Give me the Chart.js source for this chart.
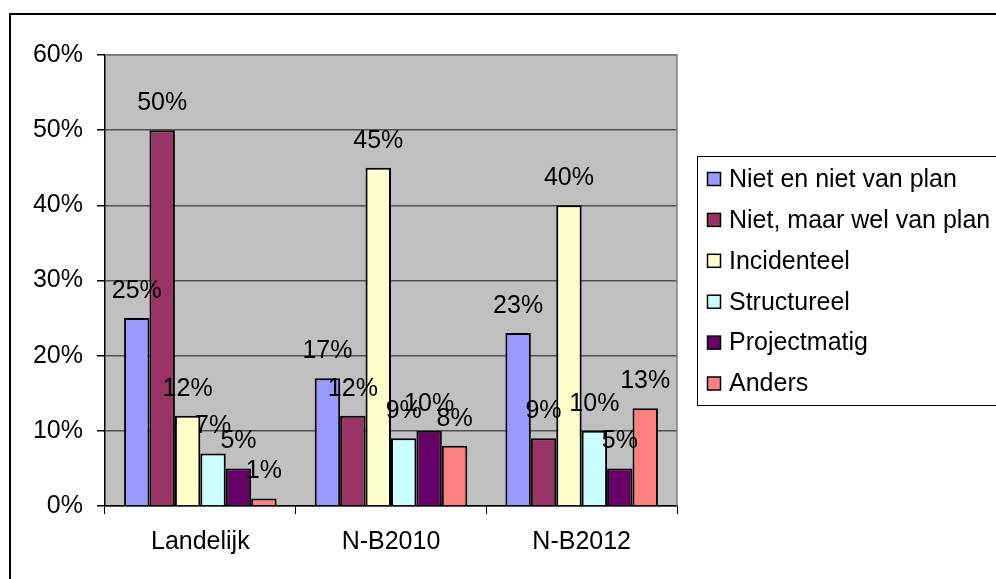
<!DOCTYPE html>
<html>
<head>
<meta charset="utf-8">
<script src="https://cdn.jsdelivr.net/npm/chart.js@4.4.1/dist/chart.umd.min.js"></script>
<style>
  html, body { margin: 0; padding: 0; background: #fff; }
  #wrap { position: relative; width: 996px; height: 579px; }
  #frame { position: absolute; left: 9px; top: 13px; width: 1200px; height: 800px; border-left: 2px solid #000; border-top: 2px solid #000; pointer-events: none; }
  canvas { position: absolute; left: 0; top: 0; }
</style>
</head>
<body>
<div id="wrap">
  <canvas id="c" width="996" height="579"></canvas>
  <div id="frame"></div>
</div>
<script>
const categories = ["Landelijk", "N-B2010", "N-B2012"];
const seriesNames = ["Niet en niet van plan", "Niet, maar wel van plan", "Incidenteel", "Structureel", "Projectmatig", "Anders"];
const nietNietVanPlan = [25, 17, 23];
const nietMaarWelVanPlan = [50, 12, 9];
const incidenteel = [12, 45, 40];
const structureel = [7, 9, 10];
const projectmatig = [5, 10, 5];
const anders = [1, 8, 13];
const yTicks = [0, 10, 20, 30, 40, 50, 60];
const seriesColors = ["#9999FF", "#993366", "#FFFFCC", "#CCFFFF", "#660066", "#FF8080"];

const allValues = [nietNietVanPlan, nietMaarWelVanPlan, incidenteel, structureel, projectmatig, anders];
const FONT = "'Liberation Sans', Arial, sans-serif";
const FS = 25;

const datasets = seriesNames.map((name, i) => ({
  label: name,
  data: allValues[i],
  backgroundColor: seriesColors[i],
  borderColor: "#000",
  borderWidth: 2,
  categoryPercentage: 0.8,
  barPercentage: 1.0
}));

const plotBg = {
  id: "plotBg",
  beforeDraw(chart) {
    const { ctx, chartArea: a } = chart;
    ctx.save();
    ctx.fillStyle = "#C0C0C0";
    ctx.fillRect(a.left, a.top, a.right - a.left, a.bottom - a.top);
    ctx.restore();
  },
  afterDatasetsDraw(chart) {
    const { ctx, chartArea: a } = chart;
    ctx.save();
    ctx.strokeStyle = "#808080";
    ctx.lineWidth = 1.5;
    ctx.beginPath();
    ctx.moveTo(a.left, a.top);
    ctx.lineTo(a.right, a.top);
    ctx.lineTo(a.right, a.bottom);
    ctx.stroke();
    ctx.restore();
  }
};

const dataLabels = {
  id: "dataLabels",
  afterDatasetsDraw(chart) {
    const ctx = chart.ctx;
    ctx.save();
    ctx.font = FS + "px " + FONT;
    ctx.fillStyle = "#000";
    ctx.textAlign = "center";
    ctx.textBaseline = "alphabetic";
    chart.data.datasets.forEach((ds, di) => {
      const meta = chart.getDatasetMeta(di);
      meta.data.forEach((el, i) => {
        ctx.fillText(ds.data[i] + "%", el.x, el.y - 20);
      });
    });
    ctx.restore();
  }
};

const customLegend = {
  id: "customLegend",
  afterDraw(chart) {
    const ctx = chart.ctx;
    ctx.save();
    ctx.strokeStyle = "#000";
    ctx.lineWidth = 1;
    ctx.strokeRect(697.5, 156.5, 400, 249);
    ctx.font = FS + "px " + FONT;
    ctx.textBaseline = "middle";
    ctx.textAlign = "left";
    chart.data.datasets.forEach((ds, i) => {
      const cy = 179 + i * 40.9;
      ctx.fillStyle = ds.backgroundColor;
      ctx.fillRect(707.5, cy - 6.5, 13, 13);
      ctx.strokeStyle = "#000";
      ctx.lineWidth = 1.5;
      ctx.strokeRect(707.5, cy - 6.5, 13, 13);
      ctx.fillStyle = "#000";
      ctx.fillText(ds.label, 729, cy + 1);
    });
    ctx.restore();
  }
};

new Chart(document.getElementById("c"), {
  type: "bar",
  data: { labels: categories, datasets },
  options: {
    responsive: false,
    animation: false,
    devicePixelRatio: 1,
    layout: { padding: { left: 0, top: 55, right: 319, bottom: 0 } },
    plugins: { legend: { display: false }, tooltip: { enabled: false } },
    scales: {
      y: {
        min: 0, max: 60,
        afterFit(s) { s.width = 105; },
        afterBuildTicks(s) { s.ticks = yTicks.map(v => ({ value: v })); },
        ticks: { callback: v => v + "%", color: "#000", font: { family: FONT, size: FS }, padding: 14 },
        grid: { color: "#505050", lineWidth: 1.5, tickColor: "#000", tickLength: 8, drawOnChartArea: true },
        border: { color: "#000", width: 1.5 }
      },
      x: {
        afterFit(s) { s.height = 73; },
        ticks: { color: "#000", font: { family: FONT, size: FS }, padding: 13 },
        grid: { drawOnChartArea: false, tickColor: "#000", tickLength: 8, offset: true },
        border: { color: "#000", width: 1.5 }
      }
    }
  },
  plugins: [plotBg, dataLabels, customLegend]
});
</script>
</body>
</html>
